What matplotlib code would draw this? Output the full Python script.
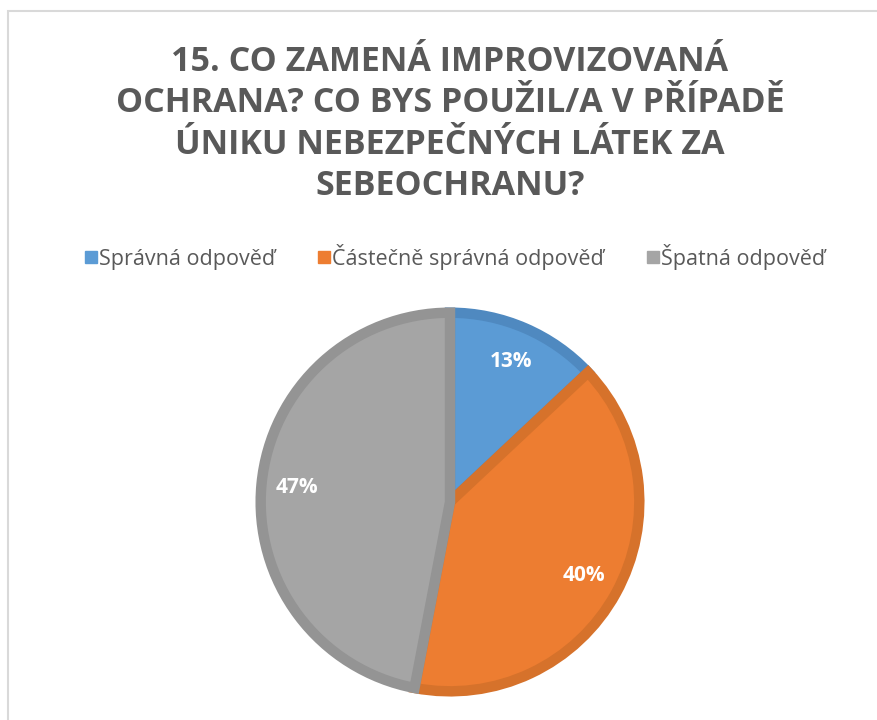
import matplotlib.pyplot as plt
from matplotlib.patches import Rectangle
from matplotlib.lines import Line2D

# data
categories = ['Správná odpověď', 'Částečně správná odpověď', 'Špatná odpověď']
shares = [13, 40, 47]
fill_colors = ['#5b9bd5', '#ed7d31', '#a5a5a5']
edge_colors = ['#4f89c0', '#d6722b', '#949494']
title = '15. CO ZAMENÁ IMPROVIZOVANÁ\nOCHRANA? CO BYS POUŽIL/A V PŘÍPADĚ\nÚNIKU NEBEZPEČNÝCH LÁTEK ZA\nSEBEOCHRANU?'

plt.rcParams['font.family'] = ['Open Sans', 'DejaVu Sans']

fig = plt.figure(figsize=(8.77, 7.2), dpi=100)

# light chart frame (cut off at right and bottom like the screenshot)
fig.patches.append(Rectangle((8 / 877, -0.05), 1.0, 1 - 11 / 720 + 0.05,
                             transform=fig.transFigure, fill=False,
                             edgecolor='#d9d9d9', linewidth=1.5))

fig.text(0.513, 1 - 124 / 720, title, ha='center', va='center',
         fontsize=24.5, fontweight='bold', color='#595959', linespacing=1.28)

# pie: center ~ (450, 502), radius ~195 px
r = 195
ax = fig.add_axes([(450 - r) / 877, (720 - 502 - r) / 720, 2 * r / 877, 2 * r / 720])
wedges, texts, autotexts = ax.pie(
    shares, colors=fill_colors, startangle=90, counterclock=False,
    autopct='%1.0f%%', pctdistance=0.81,
    wedgeprops=dict(linewidth=7.5, joinstyle='miter'),
    textprops=dict(color='white', fontsize=15, fontweight='bold'))
for w, ec in zip(wedges, edge_colors):
    w.set_edgecolor(ec)
ax.set_xlim(-1.03, 1.03)
ax.set_ylim(-1.03, 1.03)
ax.set_aspect('equal')

handles = [Line2D([], [], marker='s', linestyle='none', markersize=9,
                  markerfacecolor=c, markeredgecolor=c) for c in fill_colors]
fig.legend(handles, categories, loc='center', bbox_to_anchor=(0.518, 1 - 257 / 720),
           ncol=3, frameon=False, fontsize=15.5, handletextpad=0.05,
           columnspacing=1.9, labelcolor='#595959', handlelength=0.7)

fig.savefig('out.png', dpi=100)
